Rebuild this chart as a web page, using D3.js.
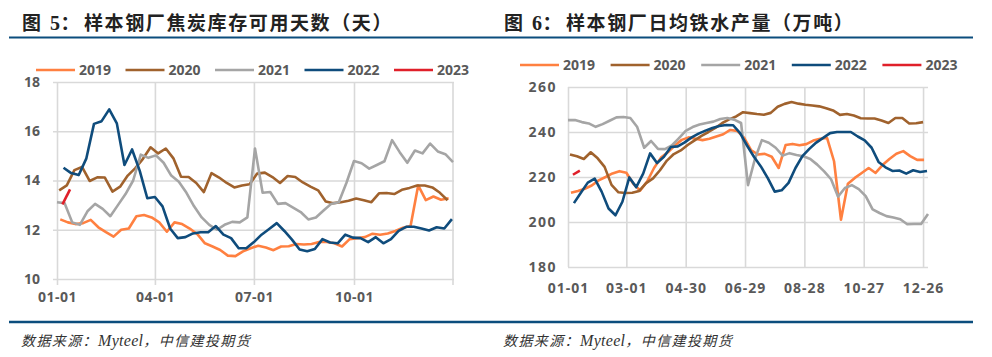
<!DOCTYPE html>
<html><head><meta charset="utf-8">
<script src="https://cdn.jsdelivr.net/npm/d3@7"></script>
<style>body{margin:0;background:#fff}</style>
</head><body><svg id="c" width="992" height="357"></svg>
<script>
// ---------- data ----------
const years = ["2019","2020","2021","2022","2023"];
const seriesColors = ["#FF8040","#A0622D","#A5A5A5","#0F4C7C","#E0202A"];
// first weekly observation (day of year) for each year
const startDays = [3, 2, 0, 6, 5];

// Chart 5: coke inventory usable days
const coke2019 = [12.42,12.3,12.23,12.27,12.4,12.1,11.9,11.72,12.0,12.05,12.55,12.6,12.5,12.3,11.92,12.3,12.23,12.05,11.82,11.45,11.32,11.18,10.95,10.93,11.12,11.25,11.35,11.28,11.17,11.32,11.33,11.42,11.4,11.42,11.5,11.5,11.45,11.32,11.62,11.66,11.7,11.84,11.8,11.85,11.95,12.08,12.15,13.8,13.2,13.35,13.22,13.28];
const coke2020 = [13.6,13.8,14.42,14.55,13.98,14.13,14.12,13.55,13.75,14.2,14.5,14.88,15.35,15.1,15.3,14.9,14.15,14.14,13.9,13.53,14.3,14.12,13.9,13.72,13.8,13.85,14.28,14.32,14.14,13.9,14.18,14.14,13.92,13.75,13.6,13.15,13.08,13.12,13.18,13.27,13.2,13.12,13.48,13.49,13.45,13.62,13.7,13.8,13.8,13.72,13.5,13.2];
const coke2021 = [13.12,13.08,12.3,12.2,12.75,13.05,12.85,12.55,13.0,13.45,14.0,15.05,14.92,15.02,14.72,14.2,13.95,13.5,12.95,12.5,12.2,12.0,12.2,12.32,12.3,12.5,15.3,13.5,13.53,13.05,13.08,12.9,12.72,12.42,12.5,12.78,13.05,13.12,13.9,14.79,14.7,14.48,14.63,14.78,15.64,15.15,14.72,15.22,15.1,15.5,15.18,15.07,14.75];
const coke2022 = [14.52,14.3,14.22,14.9,16.3,16.41,16.89,16.32,14.63,15.26,14.4,13.28,13.33,12.95,12.05,11.66,11.7,11.85,11.9,11.9,12.15,11.8,11.66,11.25,11.25,11.5,11.8,12.03,12.27,11.95,11.6,11.2,11.13,11.22,11.62,11.48,11.45,11.8,11.68,11.66,11.5,11.7,11.45,11.62,11.95,12.12,12.12,12.05,11.97,12.1,12.05,12.43];
const coke2023 = [13.03,13.64];
const cokeYTicks = [10,12,14,16,18];
const cokeXTickDays = [0,90,181,273];
const cokeXTickLabels = ["01-01","04-01","07-01","10-01"];

// Chart 6: daily hot metal output (10k t)
const iron2019 = [213,213.8,214.8,216.2,218.5,220,221.6,222.6,221.9,217,214,218,224,228.6,231,234,236.5,237.6,237,236.4,237,238,239,240.9,240.5,237.5,232,230,230.3,229,224,234.2,234.7,234.1,234.6,236.2,237,237.3,227,201,217,219.6,221.8,224,221.8,225.3,228,230.3,231.5,229.3,227.6,227.6];
const iron2020 = [230,229.2,228,231,228.3,224.5,216.5,213.2,212.9,213,213.8,217.3,219.4,223,227.3,230.2,231.8,234.2,236.3,238.3,240,241.8,244,245.6,246.9,248.8,248.4,248,247.7,248.5,251.2,252.5,253.3,252.6,252.1,251.8,251.4,250.6,249.6,247.6,248,247.3,246.1,246,246,245.1,244,246.2,246.2,243.8,243.9,244.4];
const iron2021 = [245.3,245.3,244.4,243.8,242.3,243.5,245,246.5,246.7,246.2,242.2,233,236,232.5,232.4,234,237.2,240.5,242.2,243.3,244,244.6,245.8,246.2,245.5,244,216.4,228,236.4,235.2,233,229.5,230.6,229.8,229.2,228,225.5,222.5,219,211.3,215.1,216.4,214.6,211.5,205.6,204,202.6,202,201.2,199,199.1,199.1,203.6];
const iron2022 = [208.4,213,217.5,219.3,213.5,206,203,209,219.8,215.5,221.5,230.5,226.2,229,233.3,233.6,235.4,237.6,239.3,240.6,241.8,242.7,243.1,243,239.5,234,229,224.7,219.5,213.5,214.1,217.4,224,229.3,232.5,235.3,237.4,239.5,240,240,240,238,236.3,233,226.7,224.3,222.7,222.9,221.5,223,222.2,222.7];
const iron2023 = [221,222.8];
const ironYTicks = [180,200,220,240,260];
const ironXTickDays = [0,59,119,179,239,299,359];
const ironXTickLabels = ["01-01","03-01","04-30","06-29","08-28","10-27","12-26"];

// ---------- drawing ----------
const svg = d3.select("#c");
const NAVY = "#0B4D7D", GRID = "#D9D9D9", TXT = "#595959";
const tickFont = "'Open Sans', 'Noto Sans', sans-serif";

function drawChart(o) {
  const g = svg.append("g");
  // title
  const t = g.append("text").attr("x", o.left).attr("y", 30)
    .attr("font-family", "'Noto Sans CJK SC', sans-serif").attr("font-weight", "bold")
    .attr("font-size", 19).attr("fill", "#222");
  t.append("tspan").text("图");
  t.append("tspan").attr("x", o.left + 28).attr("font-family", "'Liberation Serif', serif").attr("font-size", 20).text(o.num);
  t.append("tspan").attr("x", o.left + 38.5).text("：");
  t.append("tspan").attr("x", o.left + 62).attr("letter-spacing", 1.6).text(o.title);
  // rules
  g.append("line").attr("x1", o.rule[0]).attr("x2", o.rule[1]).attr("y1", 37.5).attr("y2", 37.5)
    .attr("stroke", NAVY).attr("stroke-width", 2.2);
  g.append("line").attr("x1", o.rule[0]).attr("x2", o.rule[1]).attr("y1", 322).attr("y2", 322)
    .attr("stroke", NAVY).attr("stroke-width", 2.6);
  // footer
  const f = g.append("text").attr("x", o.left - 1).attr("y", 346)
    .attr("font-family", "'Noto Sans CJK SC', sans-serif").attr("font-style", "italic")
    .attr("font-size", 14).attr("fill", "#333").attr("letter-spacing", 1.4);
  f.append("tspan").text("数据来源：");
  f.append("tspan").attr("font-family", "'Liberation Serif', serif").attr("font-size", 16).attr("letter-spacing", 0.3).text("Myteel");
  f.append("tspan").text("，中信建投期货");

  const x = d3.scaleLinear().domain([0, 364]).range(o.xr);
  const y = d3.scaleLinear().domain(o.yd).range(o.yr);

  // y axis + horizontal grid
  const ya = g.append("g").attr("transform", `translate(${o.xr[0]},0)`)
    .call(d3.axisLeft(y).tickValues(o.yTicks).tickSize(-(o.gridRight - o.xr[0])).tickPadding(o.yPad));
  ya.select(".domain").remove();
  ya.selectAll("line").attr("stroke", GRID).attr("stroke-width", 1.6).attr("x1", -o.yOut);
  ya.selectAll("text").attr("font-family", tickFont).attr("font-weight", 700)
    .attr("font-size", o.yFont).attr("fill", TXT).attr("letter-spacing", o.yLs);

  // x axis + vertical grid
  const xa = g.append("g").attr("transform", `translate(0,${o.yr[0]})`)
    .call(d3.axisBottom(x).tickValues(o.xTicks).tickSize(-(o.yr[0] - o.yr[1])).tickPadding(o.xPad)
      .tickFormat((d, i) => o.xLabels[i]));
  xa.select(".domain").remove();
  xa.selectAll("line").attr("stroke", GRID).attr("stroke-width", 1.6).attr("y1", o.xOut);
  xa.selectAll("text").attr("font-family", tickFont).attr("font-weight", 700)
    .attr("font-size", o.xFont).attr("fill", TXT).attr("letter-spacing", o.xLs);
  if (o.border) {
    g.append("line").attr("x1", x(364)).attr("x2", x(364)).attr("y1", o.yr[1]).attr("y2", o.yr[0] + o.xOut)
      .attr("stroke", GRID).attr("stroke-width", 1.6);
  }

  // series
  const line = d3.line().x(d => x(d.day)).y(d => y(d.v)).curve(d3.curveLinear);
  o.series.forEach((vals, k) => {
    const pts = vals.map((v, i) => ({day: startDays[k] + 7 * i, v}));
    g.append("path").datum(pts).attr("d", line).attr("fill", "none")
      .attr("stroke", seriesColors[k]).attr("stroke-width", 2.6)
      .attr("stroke-linejoin", "round").attr("stroke-linecap", "butt");
  });

  // legend
  const lg = g.append("g").attr("transform", `translate(${o.legX},${o.legY})`);
  years.forEach((yr, k) => {
    const it = lg.append("g").attr("transform", `translate(${k * o.legStep},0)`);
    it.append("line").attr("x1", 0).attr("x2", 39).attr("y1", 0).attr("y2", 0)
      .attr("stroke", seriesColors[k]).attr("stroke-width", 2.6);
    it.append("text").attr("x", 43).attr("y", 5).text(yr)
      .attr("font-family", tickFont).attr("font-weight", 700).attr("font-size", 14).attr("fill", TXT);
  });
}

drawChart({
  left: 22, num: "5", title: "样本钢厂焦炭库存可用天数（天）", rule: [9, 496],
  xr: [57, 453], gridRight: 454, yd: [10, 18], yr: [279, 82], yTicks: cokeYTicks, yPad: 17, yOut: 4, yFont: 14, yLs: 0,
  xTicks: cokeXTickDays, xLabels: cokeXTickLabels, xPad: 13, xOut: 6, xFont: 14, xLs: 0.5, border: true,
  series: [coke2019, coke2020, coke2021, coke2022, coke2023],
  legX: 36, legY: 70, legStep: 89.5
});
drawChart({
  left: 504, num: "6", title: "样本钢厂日均铁水产量（万吨）", rule: [496, 973],
  xr: [568, 928], gridRight: 928, yd: [180, 260], yr: [267, 87], yTicks: ironYTicks, yPad: 11, yOut: 0, yFont: 14, yLs: 1.5,
  xTicks: ironXTickDays, xLabels: ironXTickLabels, xPad: 16, xOut: 0, xFont: 14, xLs: 1,
  series: [iron2019, iron2020, iron2021, iron2022, iron2023],
  legX: 520, legY: 65, legStep: 90.6, border: false
});
</script></body></html>
